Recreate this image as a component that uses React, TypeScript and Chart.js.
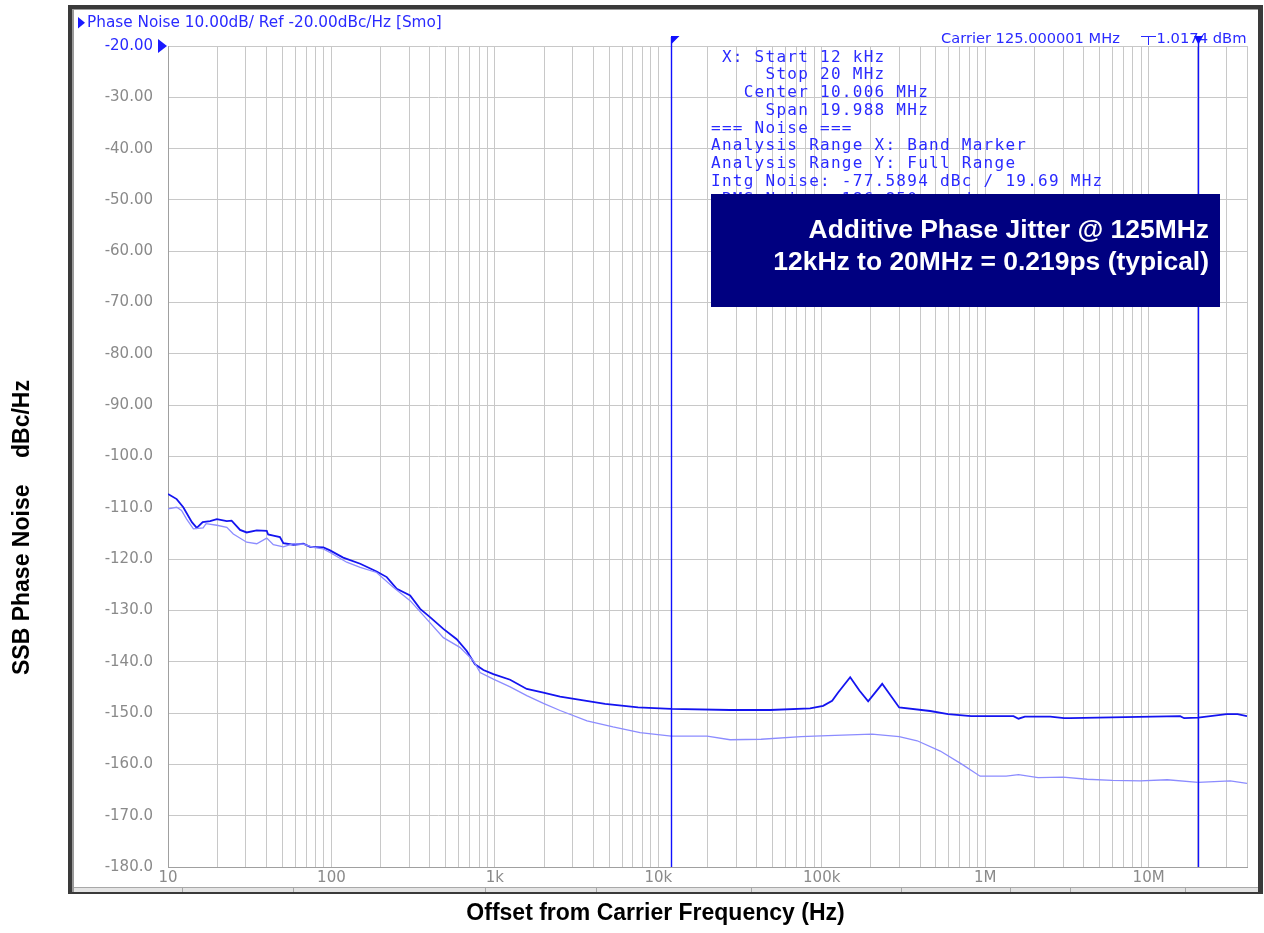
import { useEffect, useRef } from 'react';
import { Chart, registerables } from 'chart.js';

Chart.register(...registerables);

// ---------- data ----------
const darkFreq = [10, 11.3, 12.4, 14.0, 15.0, 16.3, 18.1, 19.9, 22.9, 24.5, 27.6, 30.3, 34.9, 40.2, 41, 44.1, 48.4, 50.8, 58.5, 67.3, 74.0, 89.2, 98, 118, 150, 189, 218, 251, 303, 349, 401, 484, 584, 673, 756, 851, 979, 1240, 1567, 1982, 2506, 4725, 7516, 11970, 27480, 48300, 84900, 102000, 115800, 126000, 149300, 170000, 192300, 234400, 297700, 460600, 593800, 820600, 1490000, 1600000, 1750000, 2500000, 3040000, 3300000, 15600000, 16500000, 20100000, 30000000, 35000000, 40000000];
const darkNoise = [-107.3, -108.3, -109.9, -112.8, -113.9, -112.8, -112.6, -112.2, -112.6, -112.5, -114.3, -114.8, -114.4, -114.5, -115.2, -115.4, -115.7, -116.9, -117.2, -117.0, -117.6, -117.7, -118.3, -119.7, -120.9, -122.4, -123.5, -125.8, -127.1, -129.7, -131.3, -133.6, -135.6, -137.9, -140.5, -141.6, -142.4, -143.5, -145.3, -146.0, -146.8, -148.2, -148.9, -149.2, -149.4, -149.4, -149.1, -148.6, -147.6, -146.0, -143.0, -145.6, -147.7, -144.3, -148.9, -149.6, -150.2, -150.6, -150.6, -151.1, -150.7, -150.7, -151.0, -151.0, -150.6, -151.0, -150.9, -150.2, -150.2, -150.6];

const lightFreq = [10, 11.3, 12.1, 13.0, 14.3, 16.4, 17.1, 19.9, 22.9, 25.1, 30.3, 34.9, 40.2, 44.1, 50.8, 58.5, 67.3, 77.5, 89.2, 98, 124, 150, 189, 239, 303, 383, 484, 611, 739, 812, 979, 1240, 1567, 1982, 2506, 3664, 5286, 7735, 12000, 19900, 27500, 42600, 74800, 109000, 203000, 297700, 383900, 531000, 723000, 931000, 1343000, 1600000, 2108000, 3000000, 4207000, 6000000, 8890000, 13000000, 20100000, 31600000, 40000000];
const lightNoise = [-110.2, -109.9, -110.5, -112.2, -114.1, -113.9, -113.1, -113.4, -113.8, -115.1, -116.7, -117.0, -115.9, -117.2, -117.6, -117.0, -117.1, -117.7, -118.0, -118.7, -120.6, -121.6, -122.6, -125.5, -128.1, -131.7, -135.3, -137.2, -139.8, -142.1, -143.4, -144.9, -146.6, -148.1, -149.5, -151.5, -152.7, -153.8, -154.5, -154.5, -155.2, -155.1, -154.6, -154.4, -154.1, -154.6, -155.4, -157.4, -160.0, -162.3, -162.3, -162.0, -162.6, -162.5, -162.9, -163.1, -163.2, -163.0, -163.5, -163.2, -163.7];

const xMin = 10;
const xMax = 40000000;
const yMin = -180;
const yMax = -20;
const yStep = 10;
const decadeLabels: Record<number, string> = { 10: '10', 100: '100', 1000: '1k', 10000: '10k', 100000: '100k', 1000000: '1M', 10000000: '10M' };
const markerFreqs = [12000, 20000000];

const headerText = 'Phase Noise 10.00dB/ Ref -20.00dBc/Hz [Smo]';
const carrierText = 'Carrier 125.000001 MHz';
const carrierPower = '1.0174 dBm';
const infoLines = [
  ' X: Start 12 kHz',
  '     Stop 20 MHz',
  '   Center 10.006 MHz',
  '     Span 19.988 MHz',
  '=== Noise ===',
  'Analysis Range X: Band Marker',
  'Analysis Range Y: Full Range',
  'Intg Noise: -77.5894 dBc / 19.69 MHz',
  ' RMS Noise: 186.850 µrad',
];
const jitterLines = ['Additive Phase Jitter @ 125MHz', '12kHz to 20MHz = 0.219ps (typical)'];
const xTitle = 'Offset from Carrier Frequency (Hz)';
const yTitleA = 'SSB Phase Noise';
const yTitleB = 'dBc/Hz';

const BLUE_TEXT = '#2a2aff';
const GRAY_TEXT = '#8a8a8a';

function fitFont(ctx: CanvasRenderingContext2D, text: string, width: number, family: string, weight = 'normal') {
  ctx.font = `${weight} 20px ${family}`;
  const w = ctx.measureText(text).width;
  const size = 20 * width / w;
  ctx.font = `${weight} ${size}px ${family}`;
}

const decorPlugin = {
  id: 'decor',
  beforeDraw(chart: any) {
    const ctx: CanvasRenderingContext2D = chart.ctx;
    ctx.save();
    ctx.fillStyle = '#ffffff';
    ctx.fillRect(0, 0, chart.width, chart.height);
    // window frame
    ctx.fillStyle = '#3a3a3a';
    ctx.fillRect(68, 5, 1263 - 68, 894 - 5);
    ctx.fillStyle = '#9a9a9a';
    ctx.fillRect(72, 9, 1258 - 72, 892 - 9);
    ctx.fillStyle = '#ffffff';
    ctx.fillRect(74, 10, 1258 - 74, 887 - 10);
    // bottom status strip
    ctx.fillStyle = '#e4e4e4';
    ctx.fillRect(74, 887, 1258 - 74, 5);
    ctx.fillStyle = '#a8a8a8';
    ctx.fillRect(74, 887, 1258 - 74, 1);
    const cells = [182, 293, 485, 596, 751, 901, 1010, 1070, 1185];
    for (const c of cells) ctx.fillRect(c, 887, 1, 5);
    ctx.restore();
  },
  afterDraw(chart: any) {
    const ctx: CanvasRenderingContext2D = chart.ctx;
    const xs = chart.scales.x;
    const ys = chart.scales.y;
    const area = chart.chartArea;
    ctx.save();

    // header
    ctx.fillStyle = '#1a1aff';
    ctx.beginPath();
    ctx.moveTo(78, 17); ctx.lineTo(85, 22.7); ctx.lineTo(78, 28.5); ctx.closePath(); ctx.fill();
    ctx.fillStyle = BLUE_TEXT;
    fitFont(ctx, headerText, 355, '"DejaVu Sans"');
    ctx.textBaseline = 'middle';
    ctx.textAlign = 'left';
    ctx.fillText(headerText, 87, 23);

    // reference triangle on y axis
    const yRef = ys.getPixelForValue(yMax);
    ctx.fillStyle = '#1a1aff';
    ctx.beginPath();
    ctx.moveTo(158, yRef - 7); ctx.lineTo(167, yRef); ctx.lineTo(158, yRef + 7); ctx.closePath(); ctx.fill();

    // carrier text
    ctx.fillStyle = BLUE_TEXT;
    fitFont(ctx, carrierText, 179, '"DejaVu Sans"');
    ctx.textAlign = 'left';
    ctx.fillText(carrierText, 941, 39.5);
    fitFont(ctx, carrierPower, 90, '"DejaVu Sans"');
    ctx.textAlign = 'right';
    ctx.fillText(carrierPower, 1246.5, 39.5);
    ctx.strokeStyle = BLUE_TEXT;
    ctx.lineWidth = 1;
    ctx.beginPath();
    ctx.moveTo(1141, 36.5); ctx.lineTo(1156, 36.5);
    ctx.moveTo(1148.5, 36.5); ctx.lineTo(1148.5, 45);
    ctx.stroke();

    // markers
    markerFreqs.forEach((f, i) => {
      const px = Math.round(xs.getPixelForValue(f)) + 0.5;
      ctx.strokeStyle = '#1010ff';
      ctx.fillStyle = '#1010ff';
      ctx.lineWidth = 1.4;
      ctx.beginPath();
      ctx.moveTo(px, 37); ctx.lineTo(px, area.bottom);
      ctx.stroke();
      ctx.beginPath();
      if (i === 0) {
        ctx.moveTo(px - 0.5, 36); ctx.lineTo(px + 8, 36); ctx.lineTo(px - 0.5, 44.5);
      } else {
        ctx.moveTo(px - 4.5, 36); ctx.lineTo(px + 4.5, 36); ctx.lineTo(px, 44.5);
      }
      ctx.closePath(); ctx.fill();
    });

    // info block
    ctx.fillStyle = BLUE_TEXT;
    ctx.font = '16px "DejaVu Sans Mono"';
    (ctx as any).letterSpacing = '1.27px';
    ctx.textAlign = 'left';
    ctx.textBaseline = 'middle';
    infoLines.forEach((l, i) => ctx.fillText(l, 711, 57.5 + i * 17.75));
    (ctx as any).letterSpacing = '0px';

    // jitter box
    ctx.fillStyle = '#000080';
    ctx.fillRect(711, 194, 1220 - 711, 307 - 194);
    ctx.fillStyle = '#ffffff';
    ctx.textAlign = 'right';
    fitFont(ctx, jitterLines[1], 436, '"Liberation Sans"', 'bold');
    ctx.fillText(jitterLines[0], 1209, 230.5);
    ctx.fillText(jitterLines[1], 1209, 263);

    // axis titles
    ctx.fillStyle = '#000000';
    ctx.font = 'bold 23px "Liberation Sans"';
    ctx.textAlign = 'center';
    ctx.fillText(xTitle, 655.5, 914);
    ctx.save();
    ctx.translate(22.5, 675);
    ctx.rotate(-Math.PI / 2);
    ctx.textAlign = 'left';
    ctx.fillText(yTitleA, 0, 0);
    ctx.fillText(yTitleB, 217, 0);
    ctx.restore();

    ctx.restore();
  },
};

export default function App() {
  const ref = useRef<HTMLCanvasElement | null>(null);
  useEffect(() => {
    if (!ref.current) return;
    const chart = new Chart(ref.current, {
      type: 'line',
      data: {
        datasets: [
          {
            label: 'light',
            data: lightFreq.map((f, i) => ({ x: f, y: lightNoise[i] })),
            borderColor: '#8c8cff',
            borderWidth: 1.3,
            pointRadius: 0,
            tension: 0,
          },
          {
            label: 'dark',
            data: darkFreq.map((f, i) => ({ x: f, y: darkNoise[i] })),
            borderColor: '#1414f0',
            borderWidth: 1.8,
            pointRadius: 0,
            tension: 0,
          },
        ],
      },
      options: {
        responsive: false,
        devicePixelRatio: 1,
        animation: false,
        layout: { padding: { left: 0, right: 17, top: 46, bottom: 36 } },
        plugins: { legend: { display: false }, tooltip: { enabled: false }, title: { display: false } },
        scales: {
          x: {
            type: 'logarithmic',
            min: xMin,
            max: xMax,
            afterBuildTicks: (scale: any) => {
              const t: any[] = [];
              for (let e = 1; e <= 7; e++) {
                for (let m = 1; m <= 9; m++) {
                  const v = m * Math.pow(10, e);
                  if (v >= xMin && v <= xMax) t.push({ value: v });
                }
              }
              scale.ticks = t;
            },
            afterFit: (scale: any) => { scale.height = 30; },
            grid: { color: '#c8c8c8', lineWidth: 1, drawTicks: false },
            border: { display: true, color: '#a0a0a0' },
            ticks: {
              autoSkip: false,
              maxRotation: 0,
              minRotation: 0,
              padding: 2,
              color: GRAY_TEXT,
              font: { family: '"DejaVu Sans"', size: 15 },
              callback: (v: any) => decadeLabels[Number(v)] ?? '',
            },
          },
          y: {
            type: 'linear',
            min: yMin,
            max: yMax,
            afterFit: (scale: any) => { scale.width = 168; },
            grid: { color: '#c8c8c8', lineWidth: 1, drawTicks: false },
            border: { display: true, color: '#a0a0a0' },
            ticks: {
              stepSize: yStep,
              padding: 15,
              color: (c: any) => (c.tick && c.tick.value === yMax ? BLUE_TEXT : GRAY_TEXT),
              font: { family: '"DejaVu Sans"', size: 15 },
              callback: (v: any) => {
                const n = Number(v);
                return n > -100 ? n.toFixed(2) : n.toFixed(1);
              },
            },
          },
        },
      },
      plugins: [decorPlugin],
    });
    return () => chart.destroy();
  }, []);
  return (
    <div style={{ position: 'fixed', left: 0, top: 0, width: 1264, height: 933 }}>
      <canvas ref={ref} width={1264} height={933} style={{ display: 'block' }} />
    </div>
  );
}
